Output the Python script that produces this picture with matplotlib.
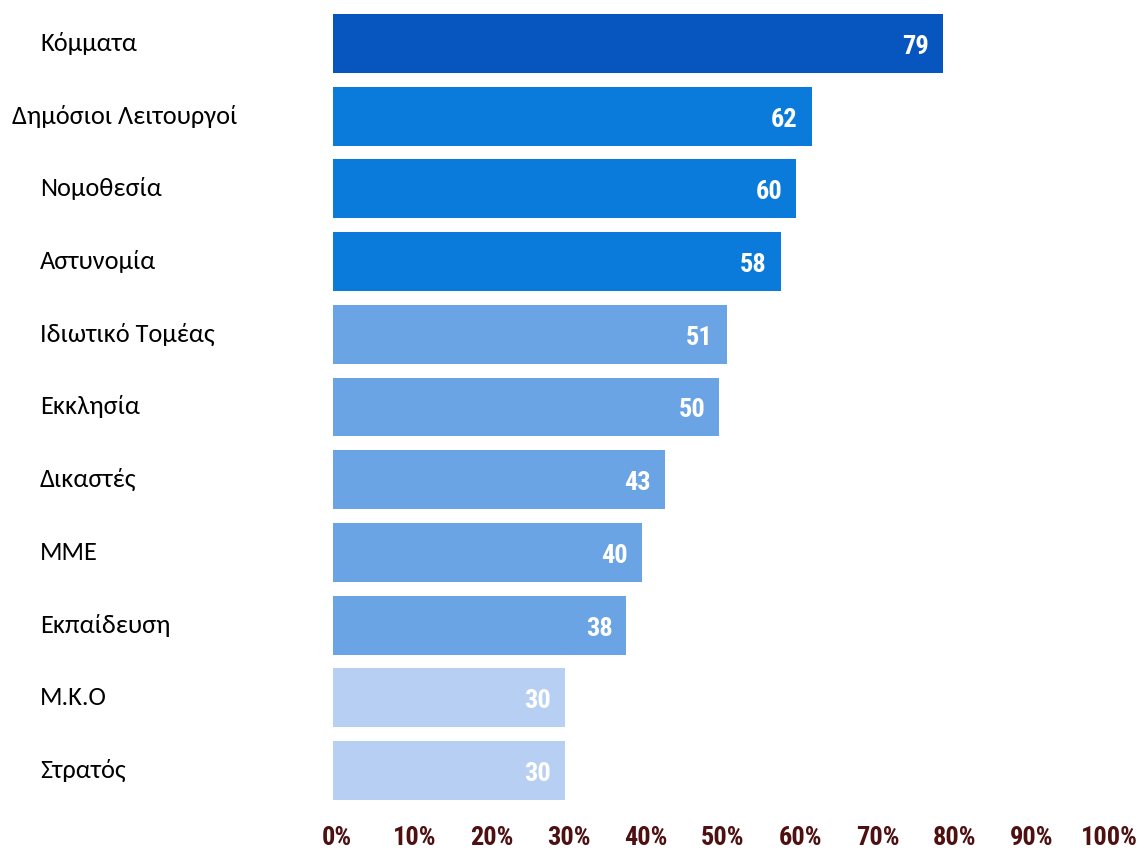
import matplotlib
matplotlib.use("Agg")
import matplotlib.pyplot as plt
from matplotlib.transforms import blended_transform_factory, ScaledTranslation

# Survey shares (%) per institution
categories = ["Κόμματα", "Δημόσιοι Λειτουργοί", "Νομοθεσία", "Αστυνομία",
              "Ιδιωτικό Τομέας", "Εκκλησία", "Δικαστές", "ΜΜΕ",
              "Εκπαίδευση", "Μ.Κ.Ο", "Στρατός"]
values = [79, 62, 60, 58, 51, 50, 43, 40, 38, 30, 30]
tick_values = [0, 10, 20, 30, 40, 50, 60, 70, 80, 90, 100]
tick_labels = [f"{v}%" for v in tick_values]

# Colour tier per bar
tiers = [0, 1, 1, 1, 2, 2, 2, 2, 2, 3, 3]
tier_colors = ["#0756c0", "#0a7bdb", "#6aa4e4", "#b6cff2"]

NARROW = ["Roboto Condensed", "Liberation Sans Narrow", "Roboto", "DejaVu Sans"]
BODY = ["Carlito", "Open Sans", "DejaVu Sans"]

W, H = 1148, 851
fig = plt.figure(figsize=(W / 100, H / 100), dpi=100)
fig.patch.set_facecolor("white")

ax_left, ax_right = 333, 1105
ax_top, ax_bottom = 7.15, 806.85
ax = fig.add_axes([ax_left / W, 1 - ax_bottom / H,
                   (ax_right - ax_left) / W, (ax_bottom - ax_top) / H])

ypos = list(range(len(categories)))
ax.barh(ypos, values, height=0.81,
        color=[tier_colors[t] for t in tiers], edgecolor="none")

ax.set_xlim(0, 100)
ax.set_ylim(len(categories) - 0.5, -0.5)
for s in ax.spines.values():
    s.set_visible(False)
ax.set_yticks([])
ax.set_xticks(tick_values)
ax.set_xticklabels(tick_labels, family=NARROW, fontweight="bold",
                   fontsize=19, color="#4e1010")
ax.tick_params(axis="x", length=0, pad=13.5)
shift = ScaledTranslation(4 / 100, 0, fig.dpi_scale_trans)
for lab in ax.get_xticklabels():
    lab.set_transform(lab.get_transform() + shift)

# value labels inside bar ends
for y, v in zip(ypos, values):
    ax.annotate(str(v), xy=(v, y), xytext=(-10, -2.5), textcoords="offset points",
                ha="right", va="center", color="white", fontweight="bold",
                fontsize=19, family=NARROW)

# category labels at the left margin
label_px = [40, 12, 40, 40, 40, 40, 40, 40, 40, 40, 40]
trans = blended_transform_factory(fig.transFigure, ax.transData)
for y, name, px in zip(ypos, categories, label_px):
    ax.text(px / W, y, name, transform=trans, ha="left", va="center",
            fontsize=19, color="black", family=BODY)

fig.savefig("out.png", dpi=100, facecolor="white")
